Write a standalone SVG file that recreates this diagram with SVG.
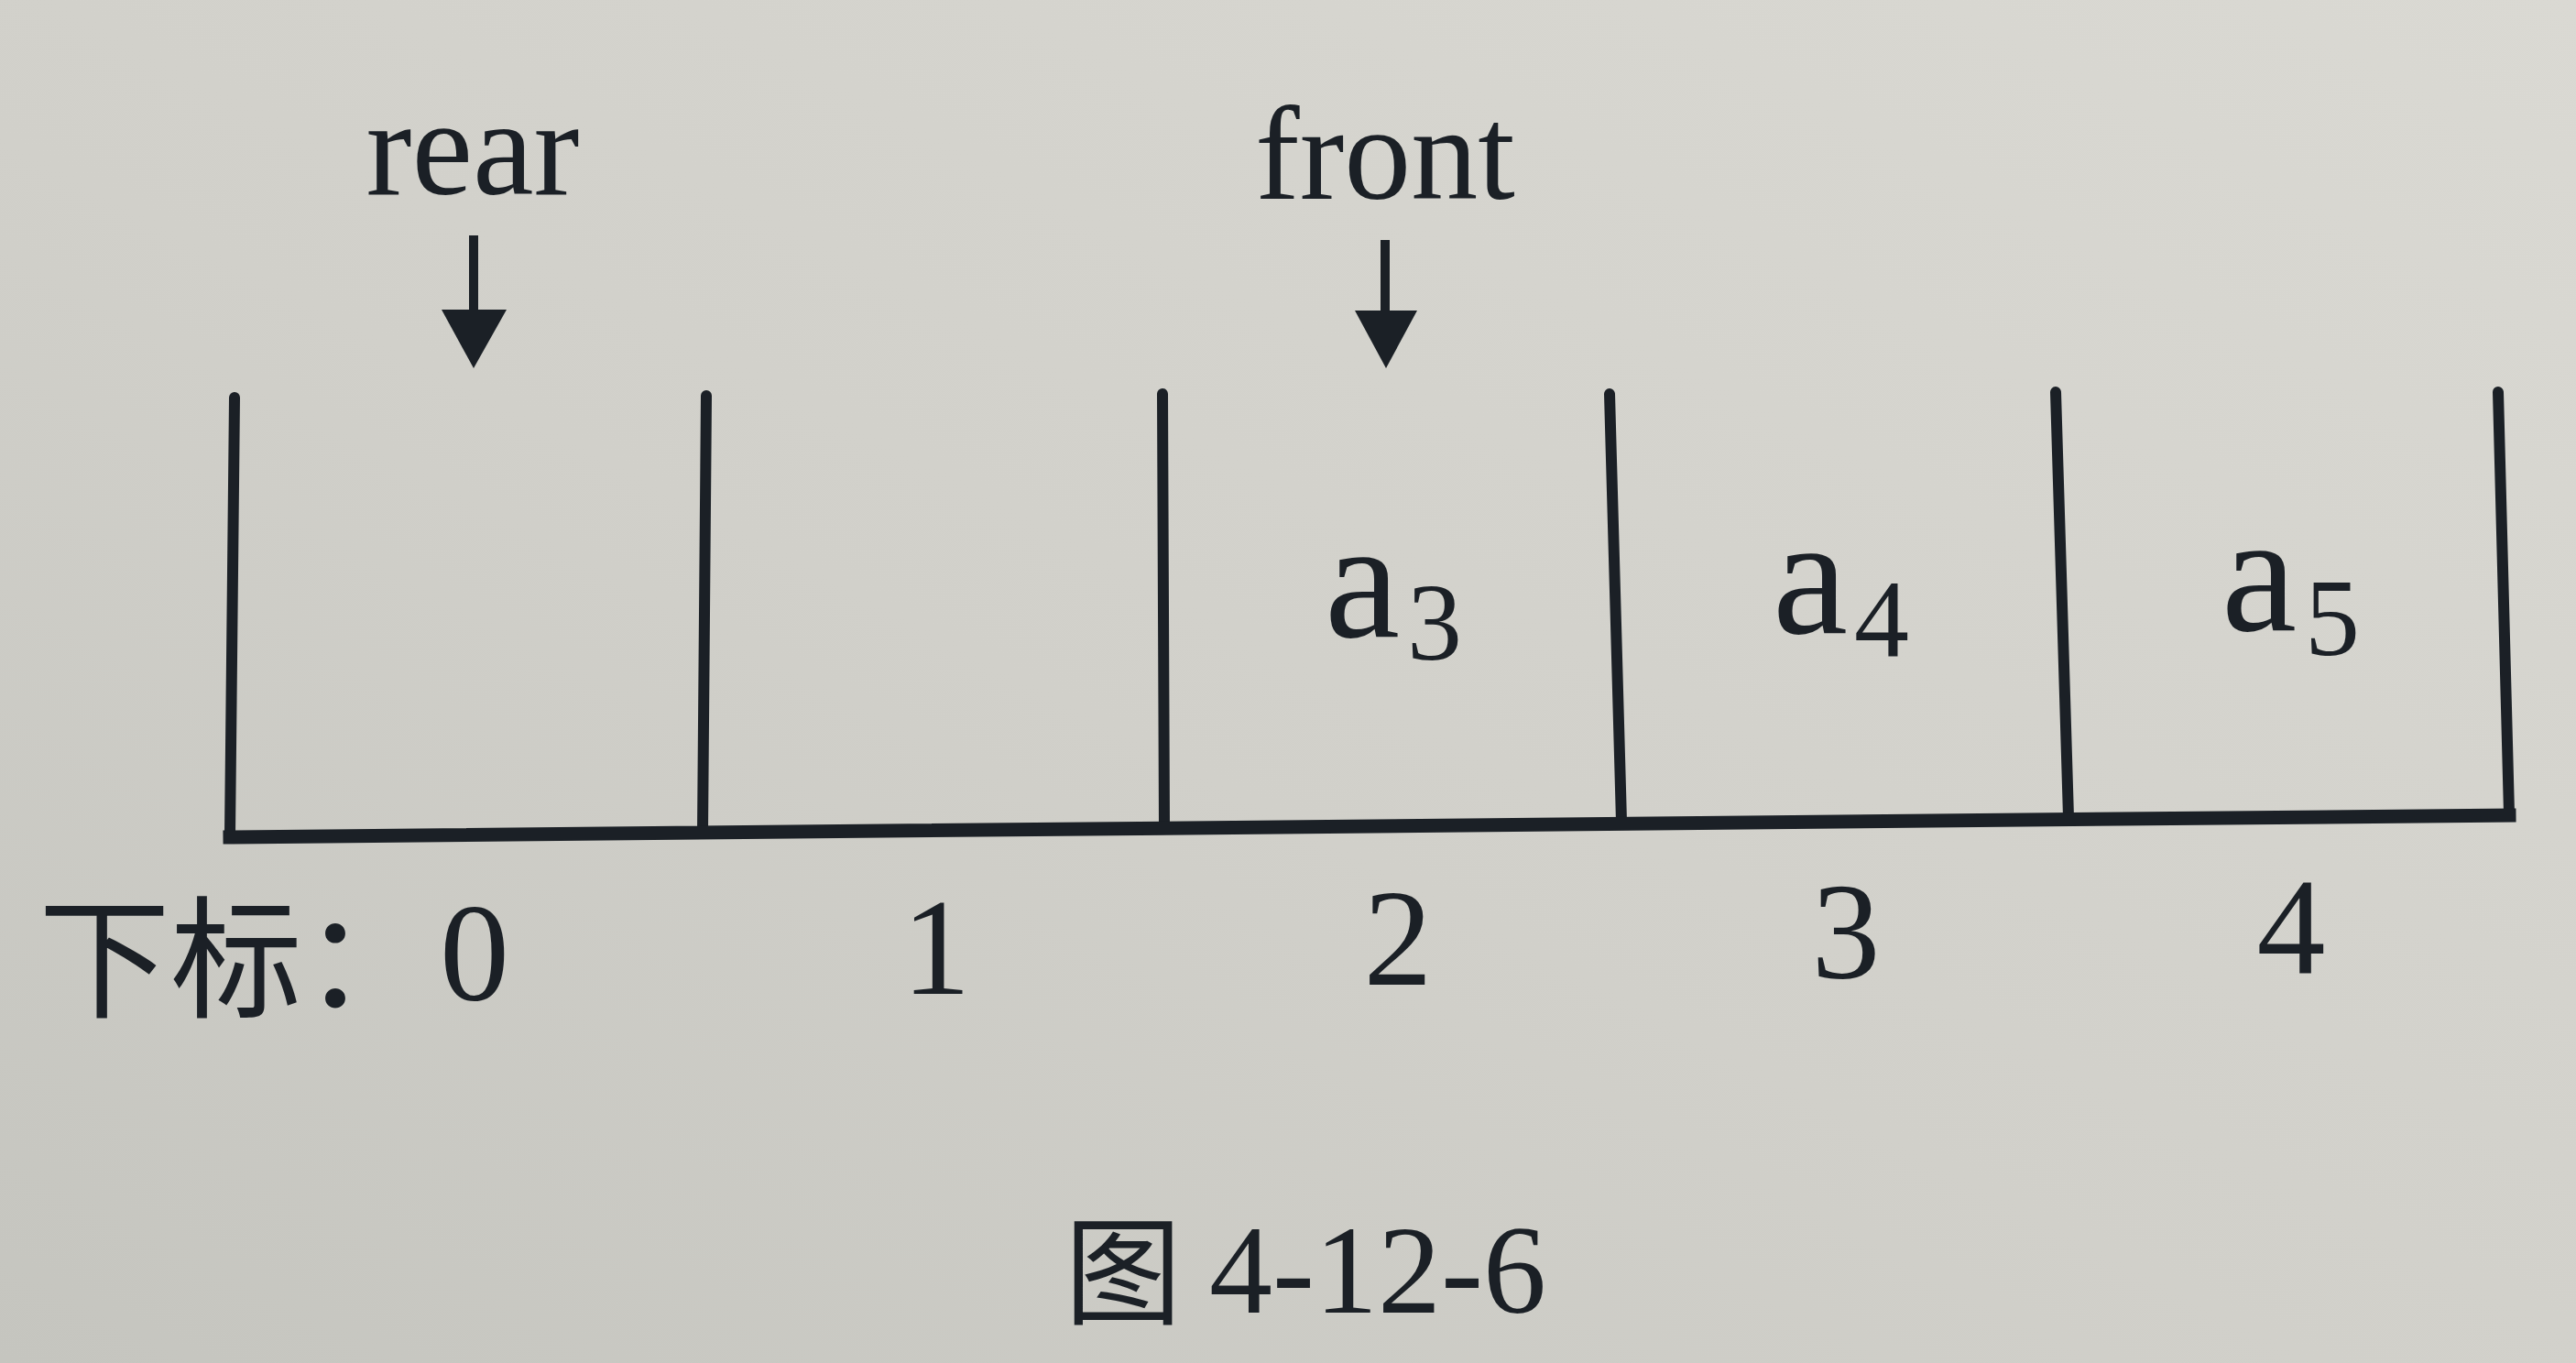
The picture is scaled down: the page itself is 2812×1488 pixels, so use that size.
<svg xmlns="http://www.w3.org/2000/svg" width="2812" height="1488" viewBox="0 0 2812 1488">
  <defs>
    <linearGradient id="paper" x1="1" y1="0" x2="0" y2="1">
      <stop offset="0" stop-color="#dad9d3"/>
      <stop offset="0.55" stop-color="#d1d0ca"/>
      <stop offset="1" stop-color="#c5c5bf"/>
    </linearGradient>
    <style>
      .ink { fill: #1b2026; }
      .wall { stroke: #1b2026; stroke-width: 12; fill: none; stroke-linecap: round; }
      .base { stroke: #1b2026; stroke-width: 15; fill: none; stroke-linecap: square; }
      .ptr { stroke: #1b2026; stroke-width: 10; fill: none; }
      .serif { font-family: "Liberation Serif", "Times New Roman", serif; fill: #1b2026; }
      .cjk { font-family: "Noto Sans CJK SC", "Noto Sans", sans-serif; fill: #1b2026; }
    </style>
  </defs>
  <rect x="0" y="0" width="2812" height="1488" fill="url(#paper)"/>

  <g id="cells">
    <g id="cell0">
      <line class="wall" x1="256" y1="434" x2="251" y2="912"/>
    </g>
    <g id="cell1">
      <line class="wall" x1="771" y1="432" x2="767" y2="907"/>
      <text class="serif" x="1022" y="1085" font-size="150" text-anchor="middle">1</text>
    </g>
    <g id="cell2">
      <line class="wall" x1="1269" y1="430" x2="1271" y2="902"/>
      <text class="serif" x="1446" y="695" font-size="185">a<tspan x="1536" y="720" font-size="120">3</tspan></text>
      <text class="serif" x="1526" y="1075" font-size="150" text-anchor="middle">2</text>
    </g>
    <g id="cell3">
      <line class="wall" x1="1757" y1="430" x2="1770" y2="897"/>
      <text class="serif" x="1935" y="691" font-size="185">a<tspan x="2024" y="716" font-size="120">4</tspan></text>
      <text class="serif" x="2015" y="1068" font-size="150" text-anchor="middle">3</text>
    </g>
    <g id="cell4">
      <line class="wall" x1="2244" y1="428" x2="2258" y2="892"/>
      <text class="serif" x="2425" y="688" font-size="185">a<tspan x="2516" y="715" font-size="120">5</tspan></text>
      <text class="serif" x="2501" y="1063" font-size="150" text-anchor="middle">4</text>
    </g>
    <line id="wall-right" class="wall" x1="2727" y1="428" x2="2739" y2="888"/>
    <line id="base" class="base" x1="251" y1="914" x2="2739" y2="890"/>
  </g>

  <g id="index-label">
    <text class="cjk" x="42" y="1100" font-size="144">下标：<tspan class="serif" x="480" y="1092" font-size="152">0</tspan></text>
  </g>

  <g id="rear">
    <text class="serif" x="516" y="212" font-size="150" text-anchor="middle">rear</text>
  </g>
  <g id="front">
    <text class="serif" x="1512" y="217" font-size="146" text-anchor="middle">front</text>
  </g>

  <g id="connectors">
    <line class="ptr" x1="517" y1="257" x2="517" y2="342"/>
    <polygon class="ink" points="482,338 553,338 517,402"/>
    <line class="ptr" x1="1512" y1="262" x2="1512" y2="342"/>
    <polygon class="ink" points="1479,339 1547,339 1513,402"/>
  </g>

  <g id="caption">
    <text class="cjk" x="1162" y="1436" font-size="128">图<tspan class="serif" x="1320" y="1433" font-size="138">4-12-6</tspan></text>
  </g>
</svg>
